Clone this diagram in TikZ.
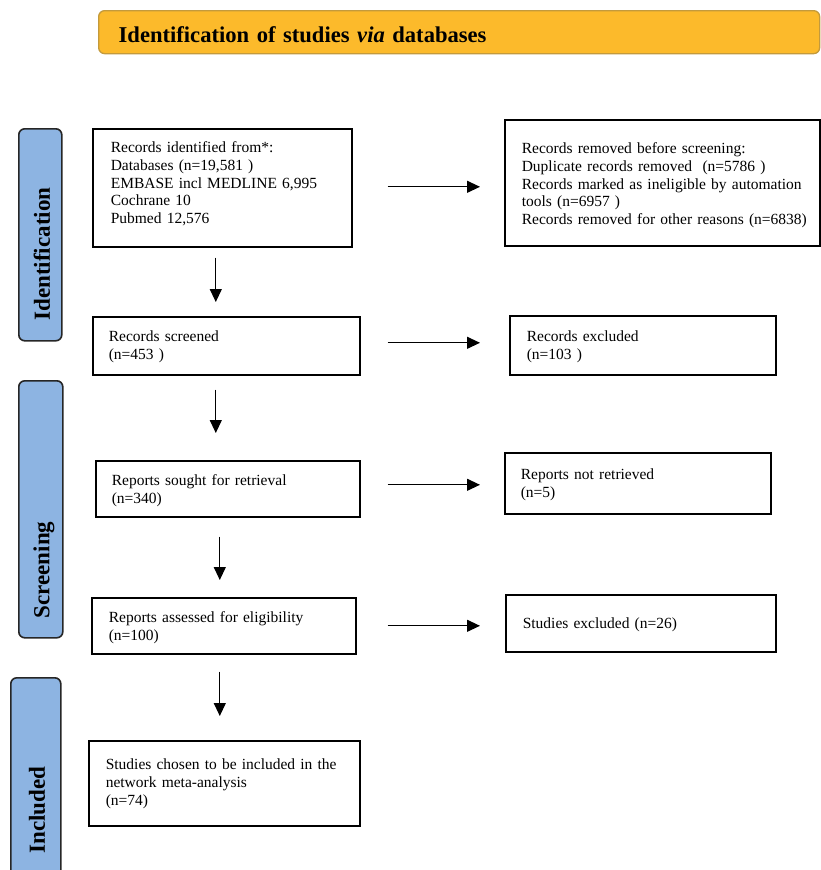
\documentclass[tikz,border=0pt]{standalone}
\usepackage{fontspec}
\setmainfont{Liberation Serif}
\usetikzlibrary{arrows.meta}
\definecolor{titlefill}{HTML}{FCBA2B}
\definecolor{titledraw}{HTML}{C39A3C}
\definecolor{sidefill}{HTML}{8DB4E2}
\definecolor{sidedraw}{HTML}{262626}
\newcommand\rindent{\hspace*{17pt}}
\tikzset{
  pbox/.style={draw, line width=1.6pt, anchor=north west, align=left, inner ysep=0pt,
    font=\fontsize{15.5}{17.6}\selectfont},
  sidebox/.style={draw=sidedraw, fill=sidefill, line width=1.6pt, rounded corners=6pt,
    anchor=north west, inner sep=0pt},
  sidelab/.style={rotate=90, font=\fontsize{23}{26}\selectfont\bfseries, inner sep=0pt},
  arr/.style={line width=1.2pt, -{Triangle[width=12pt,length=13pt]}}
}
\begin{document}
\begin{tikzpicture}[x=1pt,y=-1pt]
\useasboundingbox (0,0) rectangle (821,870);
% title
\node[draw=titledraw, fill=titlefill, line width=1.3pt, rounded corners=6pt, anchor=north west,
  align=left, inner ysep=0pt, inner xsep=20pt, text width=681pt, text height=32pt, text depth=11pt,
  font=\fontsize{22.6}{26}\selectfont\bfseries] (title) at (98,10)
  {Identification of studies \textit{via} databases};
% side boxes
\node[sidebox, minimum width=43pt, minimum height=212pt] (sid) at (18,128) {};
\node[sidebox, minimum width=44pt, minimum height=257pt] (ssc) at (18,380) {};
\node[sidebox, minimum width=50pt, minimum height=210pt] (sin) at (10,677) {};
\node[sidelab] (lid) at (42,254) {Identification};
\node[sidelab] (lsc) at (44,570) {Screening};
\node[sidelab] (lin) at (37,810) {Included};
% left column
\node[pbox, inner xsep=18pt, text width=223pt, text height=24pt, text depth=94pt] (b1) at (92,128)
  {Records identified from*:\\Databases (n=19,581 )\\EMBASE incl MEDLINE 6,995\\Cochrane 10\\Pubmed 12,576};
\node[pbox, inner xsep=16pt, text width=235pt, text height=25pt, text depth=33pt] (b2) at (92,316)
  {Records screened\\(n=453 )};
\node[pbox, inner xsep=16pt, text width=232pt, text height=25pt, text depth=31pt] (b3) at (95,460)
  {Reports sought for retrieval\\(n=340)};
\node[pbox, inner xsep=17pt, text width=230pt, text height=25pt, text depth=31pt] (b4) at (91,597)
  {Reports assessed for eligibility\\(n=100)};
\node[pbox, inner xsep=17pt, text width=237pt, text height=29pt, text depth=56pt] (b5) at (88,740)
  {Studies chosen to be included in the\\network meta-analysis\\(n=74)};
% right column
\node[pbox, inner xsep=0pt, text width=315pt, text height=34pt, text depth=92pt] (r1) at (504,119)
  {\rindent Records removed before screening:\\\rindent Duplicate records removed~ (n=5786 )\\\rindent Records marked as ineligible by automation\\\rindent tools (n=6957 )\\\rindent Records removed for other reasons (n=6838)};
\node[pbox, inner xsep=17pt, text width=232pt, text height=26pt, text depth=33pt] (r2) at (509,315)
  {Records excluded\\(n=103 )};
\node[pbox, inner xsep=16pt, text width=234pt, text height=27pt, text depth=34pt] (r3) at (504,452)
  {Reports not retrieved\\(n=5)};
\node[pbox, inner xsep=17pt, text width=236pt, text height=34pt, text depth=23pt] (r4) at (505,594)
  {Studies excluded (n=26)};
% vertical arrows
\draw[arr, shorten <=10pt, shorten >=14pt] ([xshift=-6.5pt]b1.south) -- ([xshift=-6.5pt]b1.south |- b2.north);
\draw[arr, shorten <=14pt, shorten >=27pt] ([xshift=-10.5pt]b2.south) -- ([xshift=-10.5pt]b2.south |- b3.north);
\draw[arr, shorten <=19pt, shorten >=17pt] ([xshift=-8pt]b3.south) -- ([xshift=-8pt]b3.south |- b4.north);
\draw[arr, shorten <=17pt, shorten >=24pt] ([xshift=-4pt]b4.south) -- ([xshift=-4pt]b4.south |- b5.north);
% horizontal arrows
\draw[arr, shorten <=35pt, shorten >=24pt] ([yshift=1pt]b1.east) -- ([yshift=1pt]b1.east -| r1.west);
\draw[arr, shorten <=27pt, shorten >=29pt] ([yshift=3pt]b2.east) -- ([yshift=3pt]b2.east -| r2.west);
\draw[arr, shorten <=27pt, shorten >=24pt] ([yshift=4pt]b3.east) -- ([yshift=4pt]b3.east -| r3.west);
\draw[arr, shorten <=31pt, shorten >=25pt] (b4.east) -- (b4.east -| r4.west);
\end{tikzpicture}
\end{document}
